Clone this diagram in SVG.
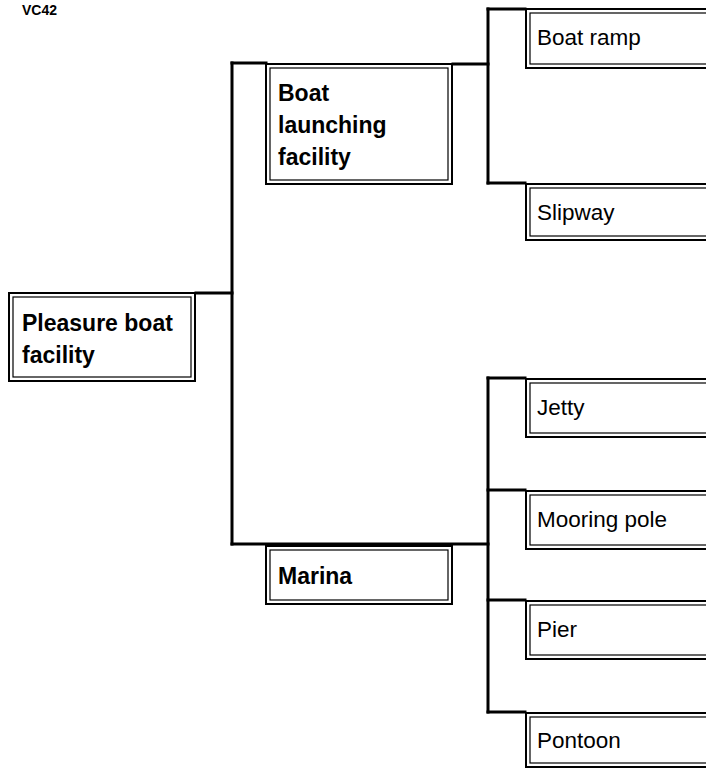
<svg xmlns="http://www.w3.org/2000/svg" width="706" height="769" viewBox="0 0 706 769">
<style>
.outer{fill:#fff;stroke:#000;stroke-width:2}
.inner{fill:none;stroke:#000;stroke-width:1.2}
.conn{fill:none;stroke:#000;stroke-width:3;stroke-linecap:square;stroke-linejoin:miter}
text{font-family:"Liberation Sans",Arial,sans-serif;fill:#000}
.b{font-weight:bold;font-size:23px}
.r{font-size:22.5px}
.t{font-weight:bold;font-size:14px}
</style>
<rect width="706" height="769" fill="#fff"/>
<text class="t" x="22" y="15">VC42</text>
<g id="connectors">
<path class="conn" d="M196 293 H232"/>
<path class="conn" d="M232 63 V544"/>
<path class="conn" d="M232 63 H266"/>
<path class="conn" d="M232 544 H488"/>
<path class="conn" d="M453 64 H488"/>
<path class="conn" d="M488 9 V183"/>
<path class="conn" d="M488 9 H525"/>
<path class="conn" d="M488 183 H525"/>
<path class="conn" d="M488 378 V712"/>
<path class="conn" d="M488 378 H525"/>
<path class="conn" d="M488 490 H525"/>
<path class="conn" d="M488 600 H525"/>
<path class="conn" d="M488 712 H525"/>
</g>
<g id="pleasure">
<rect class="outer" x="9" y="293" width="186" height="88"/>
<rect class="inner" x="13" y="297" width="178" height="80"/>
<text class="b" x="22" y="331">Pleasure boat</text>
<text class="b" x="22" y="363">facility</text>
</g>
<g id="launching">
<rect class="outer" x="266" y="64" width="186" height="120"/>
<rect class="inner" x="270" y="68" width="178" height="112"/>
<text class="b" x="278" y="101">Boat</text>
<text class="b" x="278" y="133">launching</text>
<text class="b" x="278" y="165">facility</text>
</g>
<g id="marina">
<rect class="outer" x="266" y="546" width="186" height="58"/>
<rect class="inner" x="270" y="550" width="178" height="50"/>
<text class="b" x="278" y="584">Marina</text>
</g>
<g id="boatramp">
<rect class="outer" x="526" y="9" width="200" height="59"/>
<rect class="inner" x="530" y="13" width="200" height="51"/>
<text class="r" x="537" y="45">Boat ramp</text>
</g>
<g id="slipway">
<rect class="outer" x="526" y="184" width="200" height="56"/>
<rect class="inner" x="530" y="188" width="200" height="48"/>
<text class="r" x="537" y="220">Slipway</text>
</g>
<g id="jetty">
<rect class="outer" x="526" y="379" width="200" height="58"/>
<rect class="inner" x="530" y="383" width="200" height="50"/>
<text class="r" x="537" y="415">Jetty</text>
</g>
<g id="mooring">
<rect class="outer" x="526" y="491" width="200" height="58"/>
<rect class="inner" x="530" y="495" width="200" height="50"/>
<text class="r" x="537" y="527">Mooring pole</text>
</g>
<g id="pier">
<rect class="outer" x="526" y="601" width="200" height="58"/>
<rect class="inner" x="530" y="605" width="200" height="50"/>
<text class="r" x="537" y="637">Pier</text>
</g>
<g id="pontoon">
<rect class="outer" x="526" y="713" width="200" height="54"/>
<rect class="inner" x="530" y="717" width="200" height="46"/>
<text class="r" x="537" y="748">Pontoon</text>
</g>
</svg>
